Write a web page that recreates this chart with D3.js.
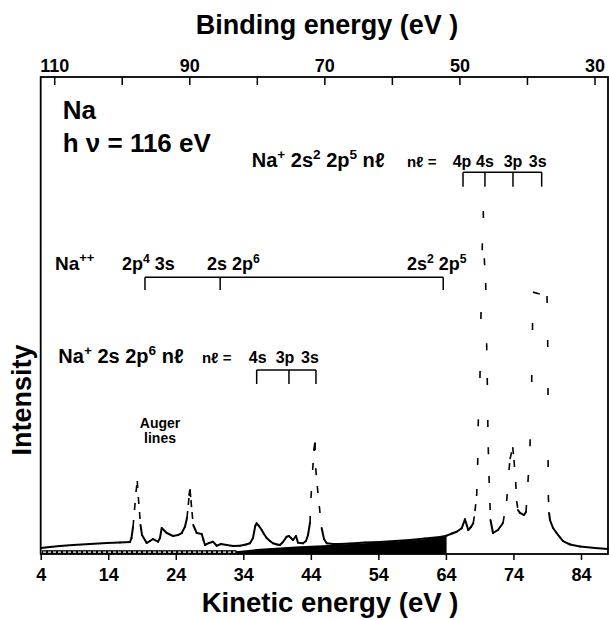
<!DOCTYPE html>
<html>
<head>
<meta charset="utf-8">
<script src="https://cdn.jsdelivr.net/npm/d3@7"></script>
<style>
  body { margin: 0; background: #fff; }
  text { font-family: "Liberation Sans", Arial, Helvetica, sans-serif; font-weight: bold; fill: #000; white-space: pre; }
</style>
</head>
<body>
<svg id="chart" width="609" height="620"></svg>
<script>
// photoelectron spectrum of Na at h nu = 116 eV
const photonEnergy = 116;

const kineticEnergy = [
  4.04, 5.38, 6.86, 8.78, 11.30, 13.82, 15.74, 17.22, 17.44, 17.67, 17.89, 18.11, 18.30, 18.45, 18.63, 18.78,
  19.00, 19.69, 20.18, 20.63, 21.37, 21.66, 21.92, 22.66, 23.59, 24.33, 24.88, 25.36, 25.66, 25.85, 25.99, 26.11,
  26.25, 26.40, 26.59, 27.10, 27.84, 28.10, 28.33, 28.92, 29.51, 30.06, 30.70, 31.54, 32.47, 33.51, 34.40, 34.99,
  35.43, 35.77, 35.98, 36.32, 36.72, 37.06, 37.46, 37.95, 38.39, 38.99, 39.43, 39.87, 40.42, 40.76, 41.06, 41.35,
  41.80, 42.10, 42.84, 43.28, 43.58, 43.87, 44.02, 44.27, 44.47, 44.61, 44.72, 44.95, 45.25, 45.60, 45.95, 46.35,
  47.28, 48.32, 49.80, 52.02, 54.24, 56.46, 58.68, 60.90, 63.12, 64.11, 64.90, 65.59, 66.33, 66.82, 67.31, 67.71,
  68.05, 68.30, 68.55, 68.70, 68.77, 69.04, 69.18, 69.37, 69.53, 69.68, 69.89, 70.03, 70.12, 70.20, 70.27, 70.38,
  70.52, 70.60, 70.97, 71.71, 72.45, 73.00, 73.34, 73.49, 73.89, 74.08, 74.33, 74.48, 74.67, 74.97, 75.56, 75.86,
  76.15, 76.45, 76.70, 76.82, 76.89, 78.97, 79.07, 79.12, 79.13, 79.16, 79.27, 79.41, 79.86,
  80.40, 81.34, 82.37, 83.85, 86.07, 87.99
];

const intensity = [
  12.6, 14.7, 16.8, 18.9, 21.0, 23.1, 24.1, 25.2, 33.5, 56.6, 92.2, 130, 153, 119.5, 88, 60.8,
  39.8, 23.1, 27.2, 31.4, 25.8, 33.5, 54.5, 44, 37.7, 39.8, 44, 57.2, 75.5, 102.7, 123.7, 134,
  113, 88, 60.8, 44, 42, 29.3, 18.9, 23.1, 25.8, 17.4, 21, 18.9, 16.8, 17.4, 19.9, 22.4,
  33.5, 58.7, 64.3, 58.7, 50.3, 42, 33.5, 27.2, 22.4, 19.9, 18.9, 25.2, 36.3, 37.7, 33.5, 29.3,
  37.7, 23.7, 22.4, 27.2, 39.8, 65, 117.4, 176, 218, 232, 180, 142.5, 100.6, 54.5, 31.4, 22.4,
  21, 21, 22, 24.1, 25.2, 27.2, 29.3, 32.5, 35.6, 38.4, 43, 46.7, 53.9, 72.7, 50.3, 56.6,
  64.3, 90, 121.6, 186.5, 268, 369, 492.6, 637, 719, 620, 568, 442, 369, 281, 224, 163.5,
  107, 71.3, 44, 50.3, 65, 111, 176, 199, 224, 197, 151, 111, 92.2, 86, 81.7, 88,
  151, 226, 360.5, 469.5, 549, 540.8, 448.5, 348, 197, 123.7, 86, 71.3, 54.5,
  44, 27.2, 19.9, 15.7, 12.6, 10.5
];

// black wedge (continuum) and hatched strip under the spectrum
const continuumKE = [32.9, 36.5, 42.4, 48.3, 54.2, 60.2, 64.1];
const continuumI = [6, 11, 16, 20, 24, 30, 37];
const hatchKE = [4.2, 33.0];
const hatchTop = 8;

// axes
const kineticTicks = [4, 14, 24, 34, 44, 54, 64, 74, 84];
const bindingTicks = [110, 100, 90, 80, 70, 60, 50, 40, 30];
const bindingLabels = [110, 90, 70, 50, 30];

// level brackets (kinetic energy of each line)
const naPlus2p5KE = [66.53, 69.78, 73.93, 78.18];
const naPlus2p5Labels = ["4p", "4s", "3p", "3s"];
const naPlusPlusKE = [19.44, 30.57, 63.6];
const naPlus2sKE = [35.98, 40.76, 44.76];
const naPlus2sLabels = ["4s", "3p", "3s"];

const svg = d3.select("#chart");

const x = d3.scaleLinear().domain([4, 88]).range([40.7, 608]);
const xBind = d3.scaleLinear().domain([photonEnergy - 4, photonEnergy - 88]).range([40.7, 608]);
const y = d3.scaleLinear().domain([0, 1000]).range([554, 77]);

// frame
svg.append("rect")
  .attr("x", 40.7).attr("y", 77)
  .attr("width", 608 - 40.7).attr("height", 554 - 77)
  .attr("fill", "none").attr("stroke", "#000").attr("stroke-width", 1.8);

// bottom axis
const bottomAxis = svg.append("g")
  .attr("transform", "translate(0,554)")
  .call(d3.axisBottom(x).tickValues(kineticTicks).tickSize(6).tickPadding(8).tickFormat(d3.format("d")));
bottomAxis.select(".domain").remove();
bottomAxis.selectAll(".tick line").attr("stroke-width", 1.5);
bottomAxis.selectAll(".tick text").style("font-size", "18px");

// top axis
const topAxis = svg.append("g")
  .attr("transform", "translate(0,77)")
  .call(d3.axisTop(xBind).tickValues(bindingTicks).tickSize(-8).tickPadding(5)
    .tickFormat(d => bindingLabels.includes(d) ? d : ""));
topAxis.select(".domain").remove();
topAxis.selectAll(".tick line").attr("stroke-width", 1.5);
topAxis.selectAll(".tick text").style("font-size", "18px");

// hatched strip
svg.append("rect")
  .attr("x", x(hatchKE[0])).attr("y", y(hatchTop))
  .attr("width", x(hatchKE[1]) - x(hatchKE[0])).attr("height", y(0) - y(hatchTop))
  .attr("fill", "#000");
svg.append("line")
  .attr("x1", x(hatchKE[0]) + 1).attr("x2", x(hatchKE[1]) - 1)
  .attr("y1", (y(0) + y(hatchTop)) / 2).attr("y2", (y(0) + y(hatchTop)) / 2)
  .attr("stroke", "#fff").attr("stroke-width", 1.4).attr("stroke-dasharray", "3,2");

// black continuum wedge
const area = d3.area()
  .x((d, i) => x(continuumKE[i]))
  .y0(y(0))
  .y1((d, i) => y(continuumI[i]));
svg.append("path").attr("d", area(continuumKE)).attr("fill", "#000");

// spectrum: steep, high parts come out as sparse dashes, like the plotted points
const spec = svg.append("g").attr("stroke", "#000").attr("fill", "none");
d3.pairs(d3.range(kineticEnergy.length)).forEach(([i, j]) => {
  const a = [x(kineticEnergy[i]), y(intensity[i])];
  const b = [x(kineticEnergy[j]), y(intensity[j])];
  const len = Math.hypot(b[0] - a[0], b[1] - a[1]);
  const hi = Math.max(intensity[i], intensity[j]);
  const seg = spec.append("line")
    .attr("x1", a[0]).attr("y1", a[1]).attr("x2", b[0]).attr("y2", b[1]);
  const dashed = (Math.abs(b[1] - a[1]) > 9 && hi > 75) || (len > 9 && hi > 100);
  if (dashed) {
    seg.attr("stroke-width", 1.6).attr("stroke-dasharray", `7,${Math.ceil(len)}`);
  } else {
    seg.attr("stroke-width", 2).attr("stroke-linecap", "round");
  }
});

// text with superscripts
function label(xp, yp, parts, size, anchor) {
  const t = svg.append("text").attr("x", xp).attr("y", yp)
    .style("font-size", size + "px").attr("text-anchor", anchor || "start");
  let up = false;
  parts.forEach(p => {
    const sup = Array.isArray(p);
    const s = sup ? p[0] : p;
    const ts = t.append("tspan").text(s);
    if (sup) {
      ts.style("font-size", (size * 0.68) + "px");
      if (!up) { ts.attr("dy", -0.4 * size); up = true; }
    } else if (up) {
      ts.attr("dy", 0.4 * size); up = false;
    }
  });
  return t;
}

function bracket(kes, yTop, yBottom) {
  svg.append("line")
    .attr("x1", x(kes[0])).attr("x2", x(kes[kes.length - 1]))
    .attr("y1", yTop).attr("y2", yTop)
    .attr("stroke", "#000").attr("stroke-width", 1.5);
  kes.forEach(k => {
    svg.append("line")
      .attr("x1", x(k)).attr("x2", x(k))
      .attr("y1", yTop).attr("y2", yBottom)
      .attr("stroke", "#000").attr("stroke-width", 1.5);
  });
}

// titles
svg.append("text").attr("x", 327).attr("y", 34).attr("text-anchor", "middle")
  .style("font-size", "27px").text("Binding energy (eV )");
svg.append("text").attr("x", 330).attr("y", 612).attr("text-anchor", "middle")
  .style("font-size", "27.5px").text("Kinetic energy (eV )");
svg.append("text").attr("transform", "translate(31,400) rotate(-90)").attr("text-anchor", "middle")
  .style("font-size", "27px").text("Intensity");

label(62.7, 119, ["Na"], 26);
label(62.7, 151.7, ["h \u03BD = 116 eV"], 26);

// Na+ 2s2 2p5 nl
label(251.7, 167, ["Na", ["+"], " 2s", ["2"], " 2p", ["5"], " n\u2113"], 20);
label(407, 167, ["n\u2113 ="], 15);
const off2p5 = [-1, 0, 0, -4];
naPlus2p5KE.forEach((k, i) => label(x(k) + off2p5[i], 167, [naPlus2p5Labels[i]], 16, "middle"));
bracket(naPlus2p5KE, 172.3, 186.7);

// Na++
label(55, 270, ["Na", ["++"]], 19);
label(122, 270, ["2p", ["4"], " 3s"], 18);
label(207, 270, ["2s 2p", ["6"]], 18);
label(407, 270, ["2s", ["2"], " 2p", ["5"]], 18);
bracket(naPlusPlusKE, 277.3, 290);

// Na+ 2s 2p6 nl
label(58.3, 363, ["Na", ["+"], " 2s 2p", ["6"], " n\u2113"], 20);
label(202, 363, ["n\u2113 ="], 15);
const off2s = [1, -4, -6];
naPlus2sKE.forEach((k, i) => label(x(k) + off2s[i], 363, [naPlus2sLabels[i]], 16, "middle"));
bracket(naPlus2sKE, 370, 384);

label(160, 427.7, ["Auger"], 14, "middle");
label(160, 442.7, ["lines"], 14, "middle");
</script>
</body>
</html>
